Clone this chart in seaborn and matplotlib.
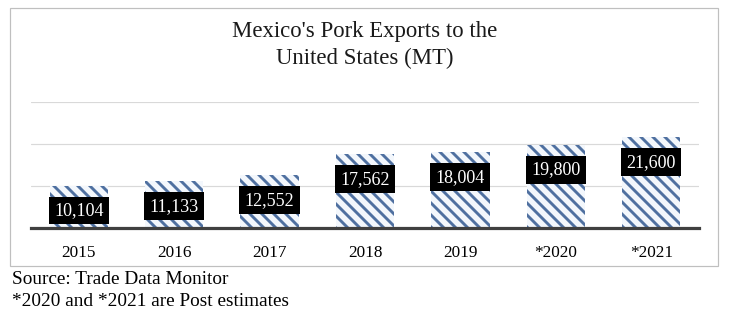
import matplotlib
matplotlib.use("Agg")
import matplotlib.pyplot as plt
import seaborn as sns
import pandas as pd
from matplotlib.patches import Rectangle

years = ["2015", "2016", "2017", "2018", "2019", "*2020", "*2021"]
exports = [10104, 11133, 12552, 17562, 18004, 19800, 21600]
title_lines = ["Mexico's Pork Exports to the", "United States (MT)"]
notes = ["Source: Trade Data Monitor", "*2020 and *2021 are Post estimates"]

sns.set_theme(style="white")
plt.rcParams['font.family'] = ['Liberation Serif', 'DejaVu Serif']
plt.rcParams['hatch.linewidth'] = 1.45
plt.rcParams['hatch.color'] = '#4f70a0'

DPI = 144
W, H = 733, 324
fig = plt.figure(figsize=(W / DPI, H / DPI), dpi=DPI)
fig.patch.set_facecolor('white')

# axes position from pixel layout
left, right, top, bottom = 31, 699, 102, 228
ax = fig.add_axes([left / W, 1 - bottom / H, (right - left) / W, (bottom - top) / H])

df = pd.DataFrame({"year": years, "exports": exports})
sns.barplot(data=df, x="year", y="exports", color="white", width=0.61, ax=ax,
            saturation=1, zorder=3)

for p in ax.patches:
    p.set_facecolor('#f3f7fc')
    p.set_edgecolor('#4f70a0')
    p.set_linewidth(0)
    p.set_hatch('\\\\\\\\')

ax.set_xlim(-0.5, len(years) - 0.5)
ax.set_ylim(0, 30000)
ax.set_yticks([10000, 20000, 30000])
ax.yaxis.grid(True, color='#d9d9d9', linewidth=0.6, zorder=0)
ax.set_axisbelow(True)
ax.set_yticklabels([])
ax.tick_params(axis='y', length=0, left=False)
ax.tick_params(axis='x', length=0, pad=8.5, labelsize=8.6, colors='black')
ax.set_xlabel("")
ax.set_ylabel("")
for s in ['left', 'right', 'top']:
    ax.spines[s].set_visible(False)
ax.spines['bottom'].set_color('#404040')
ax.spines['bottom'].set_linewidth(1.6)
ax.spines['bottom'].set_zorder(5)

for i, v in enumerate(exports):
    ax.annotate(f"{v:,}", xy=(i, v), xytext=(0, -12.5), textcoords='offset points',
                ha='center', va='center', fontsize=9.0, color='white', zorder=6,
                bbox=dict(boxstyle='square,pad=0.3', facecolor='black', edgecolor='none'))

fig.text(365 / W, 1 - 32 / H, title_lines[0], ha='center', va='center', fontsize=11.4, color='#1a1a1a')
fig.text(365 / W, 1 - 58 / H, title_lines[1], ha='center', va='center', fontsize=11.4, color='#1a1a1a')

fig.patches.append(Rectangle((10 / W, 1 - 266 / H), (718 - 10) / W, (266 - 8) / H,
                             transform=fig.transFigure, fill=False,
                             edgecolor='#bfbfbf', linewidth=0.6))

fig.text(12 / W, 1 - 280 / H, notes[0], ha='left', va='center', fontsize=9.6, color='black')
fig.text(12 / W, 1 - 302 / H, notes[1], ha='left', va='center', fontsize=9.6, color='black')

fig.savefig("out.png", dpi=DPI, facecolor='white')
